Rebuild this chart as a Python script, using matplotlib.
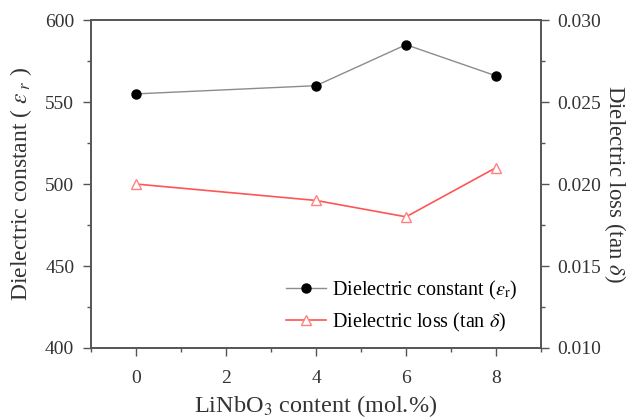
import matplotlib
matplotlib.use('Agg')
import matplotlib.pyplot as plt
from matplotlib.ticker import MultipleLocator

plt.rcParams['font.family'] = ['Liberation Serif', 'DejaVu Serif']
plt.rcParams['mathtext.fontset'] = 'stix'

# data
content = [0, 4, 6, 8]  # LiNbO3 content (mol.%)
eps_r = [555, 560, 585, 566]  # dielectric constant
tan_d = [0.020, 0.019, 0.018, 0.021]  # dielectric loss

fig = plt.figure(figsize=(6.33, 4.19), dpi=100)
ax = fig.add_axes([0.1438, 0.1695, 0.7109, 0.7825])
ax2 = ax.twinx()

l1, = ax.plot(content, eps_r, '-', color='#8c8c8c', lw=1.0, marker='o',
              ms=6.5, mfc='black', mec='black',
              label=r'Dielectric constant ($\varepsilon_{\rm r}$)')
l2, = ax2.plot(content, tan_d, '-', color='#ff5555', lw=1.2, marker='^',
               ms=7, mfc='white', mec='#ff8080', mew=1.0,
               label=r'Dielectric loss (tan $\delta$)')

ax.set_xlim(-1, 9)
ax.set_ylim(400, 600)
ax2.set_ylim(0.010, 0.030)
ax.xaxis.set_major_locator(MultipleLocator(2))
ax.xaxis.set_minor_locator(MultipleLocator(1))
ax.yaxis.set_major_locator(MultipleLocator(50))
ax.yaxis.set_minor_locator(MultipleLocator(25))
ax2.yaxis.set_major_locator(MultipleLocator(0.005))
ax2.yaxis.set_minor_locator(MultipleLocator(0.0025))
ax2.yaxis.set_major_formatter(plt.FormatStrFormatter('%.3f'))

for a in (ax, ax2):
    for s in a.spines.values():
        s.set_color('#555555')
        s.set_linewidth(1.2)
    a.tick_params(which='major', direction='out', length=6, width=1.0,
                  color='#555555', labelsize=14, labelcolor='#333333', pad=6)
    a.tick_params(which='minor', direction='out', length=3, width=1.0,
                  color='#555555')
ax.tick_params(axis='x', which='major', pad=10)

ax.set_xlabel(r'LiNbO$_3$ content (mol.%)', fontsize=17.5, color='#333333',
              labelpad=4)
ax.set_ylabel(r'Dielectric constant ( $\epsilon_{\ r}$ )', fontsize=17,
              color='#333333', labelpad=8)
ax2.set_ylabel(r'Dielectric loss (tan $\delta$)', fontsize=16.5,
               color='#333333', rotation=270, labelpad=19)

ax.legend(handles=[l1, l2], loc='lower right', frameon=False, fontsize=14.5,
          handlelength=2.0, handletextpad=0.3, borderaxespad=0.3,
          labelspacing=0.45, bbox_to_anchor=(0.98, 0.0))

fig.savefig('out.png', dpi=100)
